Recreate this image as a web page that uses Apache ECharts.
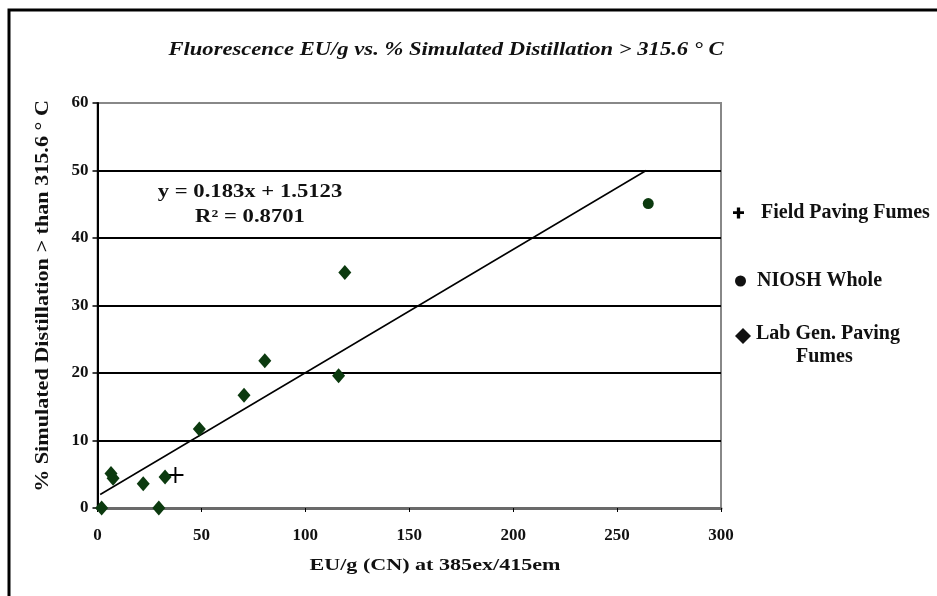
<!DOCTYPE html>
<html>
<head>
<meta charset="utf-8">
<script src="https://cdn.jsdelivr.net/npm/echarts@6/dist/echarts.min.js"></script>
<style>
  html, body { margin: 0; padding: 0; background: #fff; }
  #chart { width: 937px; height: 596px; }
</style>
</head>
<body>
<div id="chart"></div>
<script>
// data
const fieldFumes = [[37.5, 4.9]]
const nioshWhole = [[265, 45.1]]
const labGenFumes = [
  [2, 0], [6.5, 5.1], [7.5, 4.4], [22, 3.6], [29.5, 0], [32.5, 4.6],
  [49, 11.7], [70.5, 16.7], [80.5, 21.8], [116, 19.6], [119, 34.9]
]
// ends of the trend line, as drawn
const trendLine = [[1.3, 2.0], [264, 50.0]]
const xTicks = { min: 0, max: 300, step: 50 }
const yTicks = { min: 0, max: 60, step: 10 }

const serif = 'Liberation Serif'
const green = '#0c3a0f'
const plus = 'path://M4.4,0h1.2v10h-1.2z M0,4.4h10v1.2h-10z'
const legendPlus = 'path://M3.5,0h3v10h-3z M0,3.5h10v2.5h-10z'
// diamond sitting at the top of a taller box, so it lines up with the first text line
const tallDiamond = 'path://M8,0L16,8L8,16L0,8Z M8,34L8,34Z'
const legendText = { fontFamily: serif, fontWeight: 'bold', fontSize: 20, color: '#111' }

const chart = echarts.init(document.getElementById('chart'))
chart.setOption({
  backgroundColor: '#fff',
  animation: false,
  grid: {
    left: 97.5, right: 216, top: 103, bottom: 88,
    show: true, borderColor: '#888', borderWidth: 2
  },
  legend: [
    {
      data: [{ name: 'Field Paving Fumes', icon: legendPlus }], left: 728, top: 198,
      itemWidth: 11, itemHeight: 11,
      itemStyle: { color: '#000' },
      textStyle: Object.assign({ padding: [0, 0, 0, 12] }, legendText)
    },
    {
      data: ['NIOSH Whole'], left: 730, top: 266,
      itemWidth: 11, itemHeight: 11,
      itemStyle: { color: '#111' },
      textStyle: Object.assign({ padding: [0, 0, 0, 6] }, legendText)
    },
    {
      data: [{ name: 'Lab Gen. Paving Fumes', icon: tallDiamond }], left: 730, top: 317,
      itemWidth: 16, itemHeight: 34,
      itemStyle: { color: '#111' },
      formatter: () => 'Lab Gen. Paving\n        Fumes',
      textStyle: Object.assign({ lineHeight: 23 }, legendText)
    }
  ],
  xAxis: {
    type: 'value',
    min: xTicks.min, max: xTicks.max, interval: xTicks.step,
    axisLine: { lineStyle: { color: '#6a6a6a', width: 3 } },
    axisTick: { show: true, length: 4, lineStyle: { color: '#000' } },
    axisLabel: { fontFamily: serif, fontWeight: 'bold', fontSize: 17, color: '#111', margin: 19 },
    splitLine: { show: false }
  },
  yAxis: {
    type: 'value',
    min: yTicks.min, max: yTicks.max, interval: yTicks.step,
    axisLine: { lineStyle: { color: '#000', width: 2 } },
    axisTick: { show: true, length: 5, lineStyle: { color: '#000', width: 1.5 } },
    axisLabel: { fontFamily: serif, fontWeight: 'bold', fontSize: 17, color: '#111', margin: 9 },
    splitLine: { show: true, lineStyle: { color: ['#000', '#000', '#000', '#000', '#000', '#000', '#888'], width: 2 } }
  },
  graphic: [
    {
      type: 'rect', silent: true,
      shape: { x: 9, y: 10, width: 1000, height: 700 },
      style: { fill: 'none', stroke: '#000', lineWidth: 3 }
    },
    {
      // chart title
      type: 'text', x: 446, y: 50, scaleX: 1.19,
      style: {
        text: 'Fluorescence EU/g vs. % Simulated Distillation > 315.6 ° C',
        align: 'center', verticalAlign: 'middle',
        font: 'italic bold 19px "Liberation Serif"', fill: '#111'
      }
    },
    {
      // y axis title
      type: 'text', x: 43, y: 296, rotation: Math.PI / 2, scaleX: 1.23,
      style: {
        text: '% Simulated Distillation > than 315.6 ° C',
        align: 'center', verticalAlign: 'middle',
        font: 'bold 18px "Liberation Serif"', fill: '#111'
      }
    },
    {
      // x axis title
      type: 'text', x: 435, y: 566, scaleX: 1.3,
      style: {
        text: 'EU/g (CN) at 385ex/415em',
        align: 'center', verticalAlign: 'middle',
        font: 'bold 17px "Liberation Serif"', fill: '#111'
      }
    },
    {
      // regression label
      type: 'text', x: 250, y: 205, scaleX: 1.26,
      style: {
        text: 'y = 0.183x + 1.5123\nR² = 0.8701',
        align: 'center', verticalAlign: 'middle',
        font: 'bold 18px "Liberation Serif"', fill: '#111', lineHeight: 25
      }
    }
  ],
  series: [
    {
      name: 'Field Paving Fumes',
      type: 'scatter',
      symbol: plus,
      symbolSize: 16,
      itemStyle: { color: '#000', opacity: 1 },
      data: fieldFumes,
      z: 4
    },
    {
      name: 'NIOSH Whole',
      type: 'scatter',
      symbol: 'circle',
      symbolSize: 11,
      itemStyle: { color: green, opacity: 1 },
      data: nioshWhole,
      z: 4
    },
    {
      name: 'Lab Gen. Paving Fumes',
      type: 'scatter',
      symbol: 'diamond',
      symbolSize: [13, 15],
      itemStyle: { color: green, opacity: 1 },
      data: labGenFumes,
      z: 4
    },
    {
      name: 'trend',
      type: 'line',
      symbol: 'none',
      silent: true,
      lineStyle: { color: '#000', width: 1.5 },
      data: trendLine,
      z: 3
    }
  ]
})
</script>
</body>
</html>
